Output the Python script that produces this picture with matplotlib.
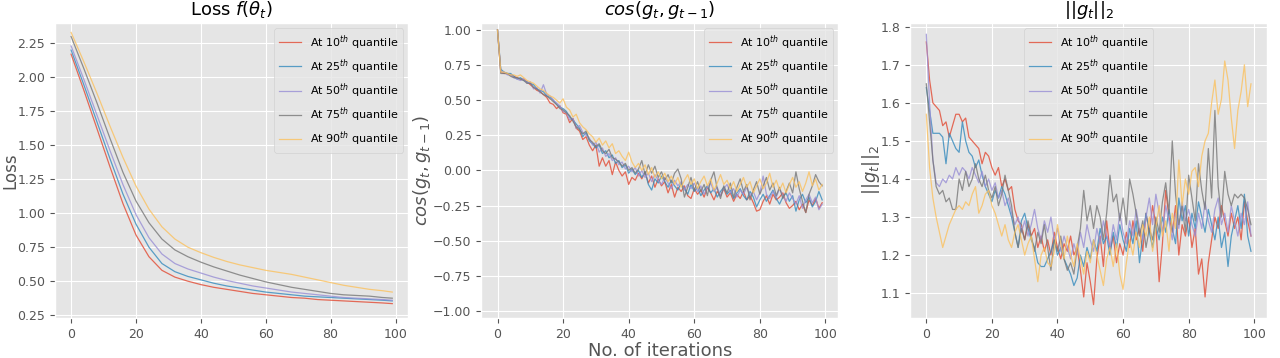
import matplotlib
matplotlib.use("Agg")
import matplotlib.pyplot as plt
import numpy as np

plt.style.use("ggplot")

labels = ["At 10$^{th}$ quantile", "At 25$^{th}$ quantile", "At 50$^{th}$ quantile",
          "At 75$^{th}$ quantile", "At 90$^{th}$ quantile"]

# loss, read every 4 iterations
iters_loss = [0, 4, 8, 12, 16, 20, 24, 28, 32, 36, 40, 44, 48, 52, 56, 60, 64, 68, 72, 76,
              80, 84, 88, 92, 96, 99]
loss_10 = [2.17, 1.90, 1.62, 1.34, 1.07, 0.84, 0.68, 0.58, 0.53, 0.50, 0.475, 0.455, 0.44,
           0.425, 0.41, 0.40, 0.39, 0.38, 0.375, 0.365, 0.36, 0.355, 0.35, 0.345, 0.34, 0.335]
loss_25 = [2.20, 1.94, 1.67, 1.40, 1.14, 0.92, 0.75, 0.63, 0.57, 0.535, 0.51, 0.485, 0.465,
           0.45, 0.435, 0.42, 0.41, 0.40, 0.39, 0.385, 0.38, 0.375, 0.37, 0.365, 0.36, 0.355]
loss_50 = [2.23, 1.98, 1.72, 1.46, 1.21, 0.99, 0.82, 0.70, 0.63, 0.59, 0.56, 0.53, 0.505,
           0.485, 0.465, 0.45, 0.435, 0.42, 0.41, 0.40, 0.39, 0.38, 0.375, 0.37, 0.365, 0.36]
loss_75 = [2.30, 2.06, 1.81, 1.55, 1.30, 1.09, 0.93, 0.81, 0.73, 0.68, 0.64, 0.605, 0.575,
           0.545, 0.52, 0.495, 0.475, 0.455, 0.44, 0.425, 0.41, 0.40, 0.395, 0.39, 0.38, 0.375]
loss_90 = [2.33, 2.11, 1.88, 1.64, 1.41, 1.20, 1.03, 0.90, 0.81, 0.75, 0.71, 0.675, 0.645,
           0.62, 0.60, 0.58, 0.565, 0.55, 0.53, 0.51, 0.49, 0.47, 0.455, 0.44, 0.43, 0.42]

# cos(g_t, g_t-1), every iteration
cos_10 = [1.00, 0.70, 0.69, 0.69, 0.68, 0.67, 0.66, 0.65, 0.65, 0.63,
          0.61, 0.59, 0.57, 0.56, 0.54, 0.52, 0.48, 0.47, 0.44, 0.46,
          0.41, 0.40, 0.34, 0.37, 0.30, 0.28, 0.22, 0.24, 0.18, 0.14,
          0.18, 0.03, 0.09, 0.03, 0.07, -0.03, 0.06, 0.00, -0.04, -0.01,
          -0.10, -0.05, -0.07, -0.02, -0.06, -0.01, -0.09, -0.04, -0.12, -0.06,
          -0.11, -0.08, -0.16, -0.10, -0.19, -0.12, -0.15, -0.11, -0.18, -0.20,
          -0.13, -0.17, -0.14, -0.19, -0.12, -0.16, -0.21, -0.15, -0.18, -0.13,
          -0.19, -0.16, -0.22, -0.17, -0.20, -0.15, -0.21, -0.18, -0.23, -0.29,
          -0.28, -0.22, -0.18, -0.24, -0.17, -0.21, -0.19, -0.16, -0.23, -0.27,
          -0.25, -0.22, -0.28, -0.24, -0.30, -0.21, -0.25, -0.20, -0.27, -0.23]
cos_25 = [1.00, 0.72, 0.70, 0.69, 0.69, 0.67, 0.65, 0.66, 0.64, 0.63,
          0.62, 0.61, 0.58, 0.57, 0.56, 0.53, 0.52, 0.50, 0.47, 0.45,
          0.44, 0.42, 0.38, 0.36, 0.33, 0.30, 0.24, 0.27, 0.21, 0.19,
          0.16, 0.18, 0.12, 0.14, 0.09, 0.11, 0.05, 0.07, 0.02, 0.04,
          -0.02, 0.01, -0.03, 0.00, -0.05, -0.01, -0.10, -0.14, -0.06, -0.09,
          -0.04, -0.08, -0.12, -0.07, -0.11, -0.14, -0.09, -0.13, -0.17, -0.10,
          -0.15, -0.12, -0.18, -0.14, -0.11, -0.16, -0.13, -0.19, -0.15, -0.12,
          -0.17, -0.14, -0.20, -0.16, -0.13, -0.18, -0.21, -0.15, -0.19, -0.26,
          -0.21, -0.17, -0.22, -0.18, -0.14, -0.20, -0.24, -0.19, -0.16, -0.22,
          -0.18, -0.29, -0.21, -0.17, -0.23, -0.19, -0.26, -0.22, -0.15, -0.21]
cos_50 = [1.00, 0.70, 0.70, 0.68, 0.68, 0.66, 0.65, 0.64, 0.65, 0.62,
          0.63, 0.58, 0.59, 0.55, 0.61, 0.54, 0.53, 0.50, 0.48, 0.46,
          0.42, 0.41, 0.36, 0.37, 0.30, 0.32, 0.27, 0.25, 0.23, 0.18,
          0.20, 0.13, 0.16, 0.10, 0.12, 0.07, 0.09, 0.04, 0.06, 0.01,
          0.03, -0.01, 0.02, -0.04, 0.00, -0.05, -0.02, -0.08, -0.03, -0.07,
          -0.10, -0.05, -0.09, -0.13, -0.07, -0.11, -0.08, -0.14, -0.10, -0.13,
          -0.09, -0.15, -0.11, -0.17, -0.12, -0.09, -0.15, -0.12, -0.18, -0.13,
          -0.10, -0.16, -0.13, -0.19, -0.14, -0.17, -0.12, -0.18, -0.15, -0.21,
          -0.16, -0.04, -0.17, -0.20, -0.15, -0.19, -0.13, -0.18, -0.22, -0.16,
          -0.20, -0.24, -0.18, -0.27, -0.21, -0.17, -0.23, -0.19, -0.28, -0.24]
cos_75 = [1.00, 0.69, 0.69, 0.69, 0.67, 0.66, 0.66, 0.65, 0.64, 0.62,
          0.62, 0.59, 0.58, 0.56, 0.54, 0.53, 0.51, 0.49, 0.47, 0.44,
          0.43, 0.41, 0.39, 0.35, 0.31, 0.29, 0.26, 0.28, 0.22, 0.20,
          0.17, 0.19, 0.14, 0.12, 0.15, 0.09, 0.08, 0.06, 0.03, 0.05,
          0.00, 0.02, -0.02, 0.01, 0.07, -0.03, 0.04, -0.02, 0.03, -0.05,
          -0.01, -0.07, -0.03, -0.09, -0.02, 0.01, -0.06, -0.19, -0.12, -0.05,
          -0.14, -0.08, -0.15, -0.10, -0.18, -0.07, -0.01, -0.13, -0.20, -0.11,
          -0.16, -0.09, -0.19, -0.12, -0.06, -0.15, -0.10, -0.21, -0.14, -0.08,
          -0.17, -0.11, -0.05, -0.14, -0.09, -0.18, -0.12, -0.20, -0.15, -0.09,
          -0.16, -0.01, -0.13, -0.22, -0.30, -0.17, -0.11, -0.03, -0.08, -0.11]
cos_90 = [1.00, 0.70, 0.70, 0.69, 0.68, 0.68, 0.67, 0.68, 0.66, 0.64,
          0.63, 0.62, 0.60, 0.58, 0.57, 0.55, 0.53, 0.52, 0.50, 0.48,
          0.51, 0.45, 0.43, 0.38, 0.40, 0.34, 0.31, 0.29, 0.26, 0.24,
          0.20, 0.23, 0.18, 0.21, 0.16, 0.19, 0.12, 0.14, 0.10, 0.07,
          0.13, 0.06, 0.02, 0.05, 0.00, 0.04, -0.03, 0.02, -0.05, -0.01,
          -0.06, -0.02, -0.08, -0.04, -0.10, -0.05, -0.12, -0.07, -0.03, -0.10,
          -0.06, -0.13, -0.08, -0.04, -0.11, -0.06, -0.14, -0.09, -0.03, -0.10,
          -0.07, -0.13, -0.08, -0.15, -0.10, -0.05, -0.12, -0.08, -0.16, -0.11,
          -0.06, -0.13, -0.09, -0.02, -0.12, -0.07, -0.14, -0.09, -0.16, -0.10,
          -0.05, -0.12, -0.08, -0.15, -0.09, -0.01, -0.11, -0.06, -0.14, -0.10]

# ||g_t||_2, every iteration
norm_10 = [1.76, 1.66, 1.60, 1.59, 1.58, 1.54, 1.55, 1.51, 1.54, 1.57,
           1.57, 1.55, 1.56, 1.51, 1.50, 1.49, 1.48, 1.44, 1.47, 1.46,
           1.43, 1.41, 1.43, 1.38, 1.40, 1.37, 1.38, 1.32, 1.29, 1.28,
           1.24, 1.28, 1.25, 1.27, 1.22, 1.25, 1.21, 1.24, 1.20, 1.26,
           1.22, 1.19, 1.23, 1.21, 1.25, 1.20, 1.22, 1.16, 1.09, 1.18,
           1.13, 1.07, 1.19, 1.25, 1.17, 1.29, 1.21, 1.25, 1.18, 1.23,
           1.20, 1.26, 1.22, 1.29, 1.24, 1.27, 1.21, 1.31, 1.26, 1.33,
           1.28, 1.13, 1.23, 1.37, 1.30, 1.26, 1.33, 1.20, 1.28, 1.25,
           1.30, 1.22, 1.27, 1.15, 1.19, 1.09, 1.18, 1.24, 1.30, 1.27,
           1.33, 1.29, 1.25, 1.31, 1.27, 1.30, 1.24, 1.34, 1.29, 1.25]
norm_25 = [1.64, 1.58, 1.52, 1.52, 1.52, 1.51, 1.44, 1.52, 1.50, 1.48,
           1.47, 1.55, 1.50, 1.47, 1.46, 1.43, 1.45, 1.41, 1.38, 1.36,
           1.34, 1.37, 1.35, 1.38, 1.36, 1.33, 1.30, 1.26, 1.22, 1.29,
           1.31, 1.27, 1.24, 1.22, 1.18, 1.17, 1.17, 1.19, 1.21, 1.24,
           1.20, 1.22, 1.19, 1.17, 1.15, 1.12, 1.14, 1.20, 1.17, 1.22,
           1.19, 1.24, 1.21, 1.27, 1.23, 1.25, 1.20, 1.26, 1.22, 1.28,
           1.24, 1.21, 1.27, 1.23, 1.29, 1.18, 1.25, 1.31, 1.26, 1.22,
           1.28, 1.24, 1.30, 1.26, 1.32, 1.27, 1.23, 1.35, 1.29, 1.33,
           1.25, 1.31, 1.27, 1.34, 1.30, 1.26, 1.32, 1.28, 1.24, 1.30,
           1.22, 1.26, 1.17, 1.25, 1.29, 1.33, 1.27, 1.36, 1.25, 1.21]
norm_50 = [1.78, 1.60, 1.45, 1.39, 1.38, 1.40, 1.39, 1.41, 1.40, 1.43,
           1.41, 1.43, 1.42, 1.40, 1.43, 1.41, 1.39, 1.42, 1.38, 1.40,
           1.37, 1.39, 1.35, 1.37, 1.33, 1.35, 1.31, 1.28, 1.30, 1.26,
           1.29, 1.25, 1.28, 1.32, 1.27, 1.24, 1.29, 1.26, 1.30, 1.24,
           1.27, 1.21, 1.25, 1.22, 1.19, 1.23, 1.20, 1.26, 1.22, 1.28,
           1.24, 1.21, 1.27, 1.23, 1.29, 1.25, 1.22, 1.28, 1.24, 1.31,
           1.26, 1.23, 1.29, 1.25, 1.32, 1.27, 1.24, 1.30, 1.35, 1.28,
           1.36, 1.31, 1.26, 1.33, 1.29, 1.24, 1.31, 1.27, 1.34, 1.29,
           1.32, 1.28, 1.25, 1.31, 1.27, 1.34, 1.29, 1.26, 1.32, 1.35,
           1.28, 1.31, 1.26, 1.33, 1.29, 1.25, 1.31, 1.28, 1.34, 1.25]
norm_75 = [1.65, 1.55, 1.45, 1.38, 1.36, 1.37, 1.34, 1.35, 1.32, 1.32,
           1.40, 1.37, 1.42, 1.38, 1.40, 1.44, 1.40, 1.38, 1.41, 1.37,
           1.35, 1.38, 1.33, 1.36, 1.41, 1.37, 1.33, 1.26, 1.22, 1.27,
           1.24, 1.29, 1.25, 1.21, 1.26, 1.23, 1.28, 1.22, 1.16, 1.24,
           1.21, 1.25, 1.19, 1.16, 1.18, 1.15, 1.22, 1.27, 1.37, 1.29,
           1.33, 1.27, 1.33, 1.30, 1.24, 1.31, 1.41, 1.34, 1.36, 1.29,
           1.35, 1.28, 1.40, 1.36, 1.31, 1.25, 1.29, 1.22, 1.27, 1.24,
           1.30, 1.26, 1.34, 1.39, 1.31, 1.50, 1.36, 1.28, 1.33, 1.26,
           1.41, 1.35, 1.29, 1.44, 1.37, 1.32, 1.48, 1.35, 1.58, 1.38,
           1.30, 1.42, 1.36, 1.33, 1.36, 1.35, 1.36, 1.35, 1.32, 1.28]
norm_90 = [1.57, 1.43, 1.35, 1.30, 1.26, 1.22, 1.25, 1.28, 1.30, 1.32,
           1.33, 1.32, 1.34, 1.33, 1.36, 1.38, 1.31, 1.33, 1.36, 1.37,
           1.33, 1.31, 1.28, 1.25, 1.28, 1.24, 1.22, 1.26, 1.28, 1.24,
           1.20, 1.23, 1.25, 1.19, 1.13, 1.20, 1.22, 1.18, 1.17, 1.21,
           1.28, 1.23, 1.19, 1.25, 1.20, 1.17, 1.23, 1.19, 1.15, 1.21,
           1.18, 1.24, 1.20, 1.16, 1.12, 1.19, 1.22, 1.17, 1.23, 1.15,
           1.11, 1.18, 1.24, 1.20, 1.26, 1.22, 1.28, 1.25, 1.30, 1.21,
           1.27, 1.33, 1.25, 1.29, 1.21, 1.31, 1.27, 1.45, 1.33, 1.40,
           1.36, 1.42, 1.43, 1.38, 1.46, 1.50, 1.52, 1.60, 1.66, 1.57,
           1.61, 1.71, 1.66, 1.56, 1.48, 1.58, 1.63, 1.70, 1.59, 1.65]

iters = np.arange(len(cos_10))

fig = plt.figure(figsize=(12.8, 3.58), dpi=100)
ax1 = fig.add_axes([0.043, 0.112, 0.276, 0.824])
ax2 = fig.add_axes([0.376, 0.112, 0.279, 0.824])
ax3 = fig.add_axes([0.711, 0.112, 0.279, 0.824])

lw = 0.9
al = 0.8
for y, lab in zip([loss_10, loss_25, loss_50, loss_75, loss_90], labels):
    ax1.plot(iters_loss, y, lw=lw, alpha=al, label=lab)
for y, lab in zip([cos_10, cos_25, cos_50, cos_75, cos_90], labels):
    ax2.plot(iters, y, lw=lw, alpha=al, label=lab)
for y, lab in zip([norm_10, norm_25, norm_50, norm_75, norm_90], labels):
    ax3.plot(iters, y, lw=lw, alpha=al, label=lab)

ax1.set_title(r"Loss $f(\theta_t)$", fontsize=13)
ax1.set_ylabel("Loss", fontsize=12, va="center")
ax1.yaxis.set_label_coords(-0.127, 0.5)
ax1.set_yticks([0.25, 0.5, 0.75, 1.0, 1.25, 1.5, 1.75, 2.0, 2.25])
ax1.set_ylim(0.23, 2.40)
ax1.legend(loc="upper right", fontsize=8)

ax2.set_title(r"$cos(g_t, g_{t-1})$", fontsize=13)
ax2.set_ylabel(r"$cos(g_t, g_{t-1})$", fontsize=13)
ax2.yaxis.set_label_coords(-0.135, 0.5)
ax2.set_xlabel("No. of iterations", fontsize=13)
ax2.xaxis.set_label_coords(0.5, -0.08)
ax2.set_ylim(-1.05, 1.05)
ax2.set_yticks([-1.0, -0.75, -0.5, -0.25, 0.0, 0.25, 0.5, 0.75, 1.0])
ax2.legend(loc="upper right", fontsize=8)

ax3.set_title(r"$||g_t||_2$", fontsize=13)
ax3.set_ylabel(r"$||g_t||_2$", fontsize=13)
ax3.yaxis.set_label_coords(-0.08, 0.5)
ax3.set_ylim(1.035, 1.81)
ax3.legend(loc="upper center", fontsize=8)

for ax in (ax1, ax2, ax3):
    ax.set_xticks([0, 20, 40, 60, 80, 100])
    ax.tick_params(labelsize=9)

fig.savefig("out.png", dpi=100)
